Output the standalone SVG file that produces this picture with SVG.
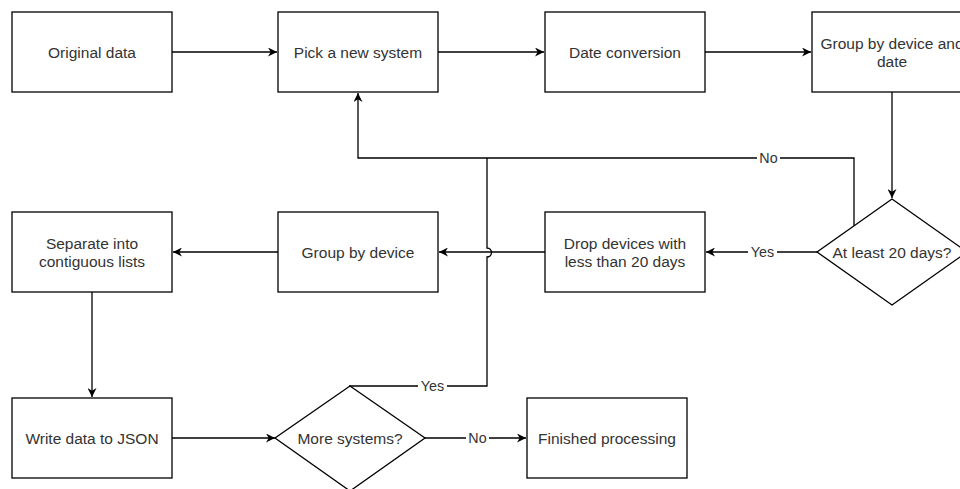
<svg xmlns="http://www.w3.org/2000/svg" width="960" height="489" viewBox="0 0 960 489">
<defs>
<marker id="arr" viewBox="0 0 10 10" refX="10" refY="5" markerWidth="9" markerHeight="9" markerUnits="userSpaceOnUse" orient="auto">
<path d="M0,0 L10,5 L0,10 L3,5 Z" fill="#000"/>
</marker>
<style>
.box{fill:#fff;stroke:#000;stroke-width:1.3}
.t{font-family:"Liberation Sans",Arial,sans-serif;font-size:15.5px;fill:#333;text-anchor:middle;dominant-baseline:central}
.e{fill:none;stroke:#000;stroke-width:1.3}
.lbl{font-family:"Liberation Sans",Arial,sans-serif;font-size:14.3px;fill:#333;text-anchor:middle;dominant-baseline:central}
</style>
</defs>
<rect width="960" height="489" fill="#fff"/>
<g id="connectors">
<path class="e" d="M172,52 H277" marker-end="url(#arr)"/>
<path class="e" d="M438,52 H544" marker-end="url(#arr)"/>
<path class="e" d="M705,52 H811" marker-end="url(#arr)"/>
<path class="e" d="M892,92 V198" marker-end="url(#arr)"/>
<path class="e" d="M854,226 V158 H358 V93" marker-end="url(#arr)"/>
<path class="e" d="M817,252 H706" marker-end="url(#arr)"/>
<path class="e" d="M545,252 H439" marker-end="url(#arr)"/>
<path class="e" d="M278,252 H173" marker-end="url(#arr)"/>
<path class="e" d="M92,292 V397" marker-end="url(#arr)"/>
<path class="e" d="M172,438 H275" marker-end="url(#arr)"/>
<path class="e" d="M425,438 H526" marker-end="url(#arr)"/>
<path class="e" d="M349,386 H487 V257 A4.5,4.5 0 0 0 487,248 V158"/>
<g>
<rect x="757" y="150" width="23" height="16" fill="#fff"/>
<text class="lbl" x="768.5" y="158">No</text>
<rect x="748" y="244" width="29" height="16" fill="#fff"/>
<text class="lbl" x="762.5" y="252">Yes</text>
<rect x="418" y="378" width="29" height="16" fill="#fff"/>
<text class="lbl" x="432.5" y="386">Yes</text>
<rect x="466" y="430" width="23" height="16" fill="#fff"/>
<text class="lbl" x="477.5" y="438">No</text>
</g>
</g>
<g id="original-data"><rect class="box" x="12" y="12" width="160" height="80"/><text class="t" x="92" y="52">Original data</text></g>
<g id="pick-system"><rect class="box" x="278" y="12" width="160" height="80"/><text class="t" x="358" y="52">Pick a new system</text></g>
<g id="date-conversion"><rect class="box" x="545" y="12" width="160" height="80"/><text class="t" x="625" y="52">Date conversion</text></g>
<g id="group-device-date"><rect class="box" x="812" y="12" width="160" height="80"/><text class="t" x="892" y="43">Group by device and</text><text class="t" x="892" y="61">date</text></g>
<g id="at-least-20"><polygon class="box" points="892,199 967,252 892,305 817,252"/><text class="t" x="892" y="252">At least 20 days?</text></g>
<g id="drop-devices"><rect class="box" x="545" y="212" width="160" height="80"/><text class="t" x="625" y="243">Drop devices with</text><text class="t" x="625" y="261">less than 20 days</text></g>
<g id="group-device"><rect class="box" x="278" y="212" width="160" height="80"/><text class="t" x="358" y="252">Group by device</text></g>
<g id="separate-lists"><rect class="box" x="12" y="212" width="160" height="80"/><text class="t" x="92" y="243">Separate into</text><text class="t" x="92" y="261">contiguous lists</text></g>
<g id="write-json"><rect class="box" x="12" y="398" width="160" height="80"/><text class="t" x="92" y="438">Write data to JSON</text></g>
<g id="more-systems"><polygon class="box" points="350,386 425,438 350,491 275,438"/><text class="t" x="350" y="438">More systems?</text></g>
<g id="finished"><rect class="box" x="527" y="398" width="160" height="80"/><text class="t" x="607" y="438">Finished processing</text></g>
</svg>
